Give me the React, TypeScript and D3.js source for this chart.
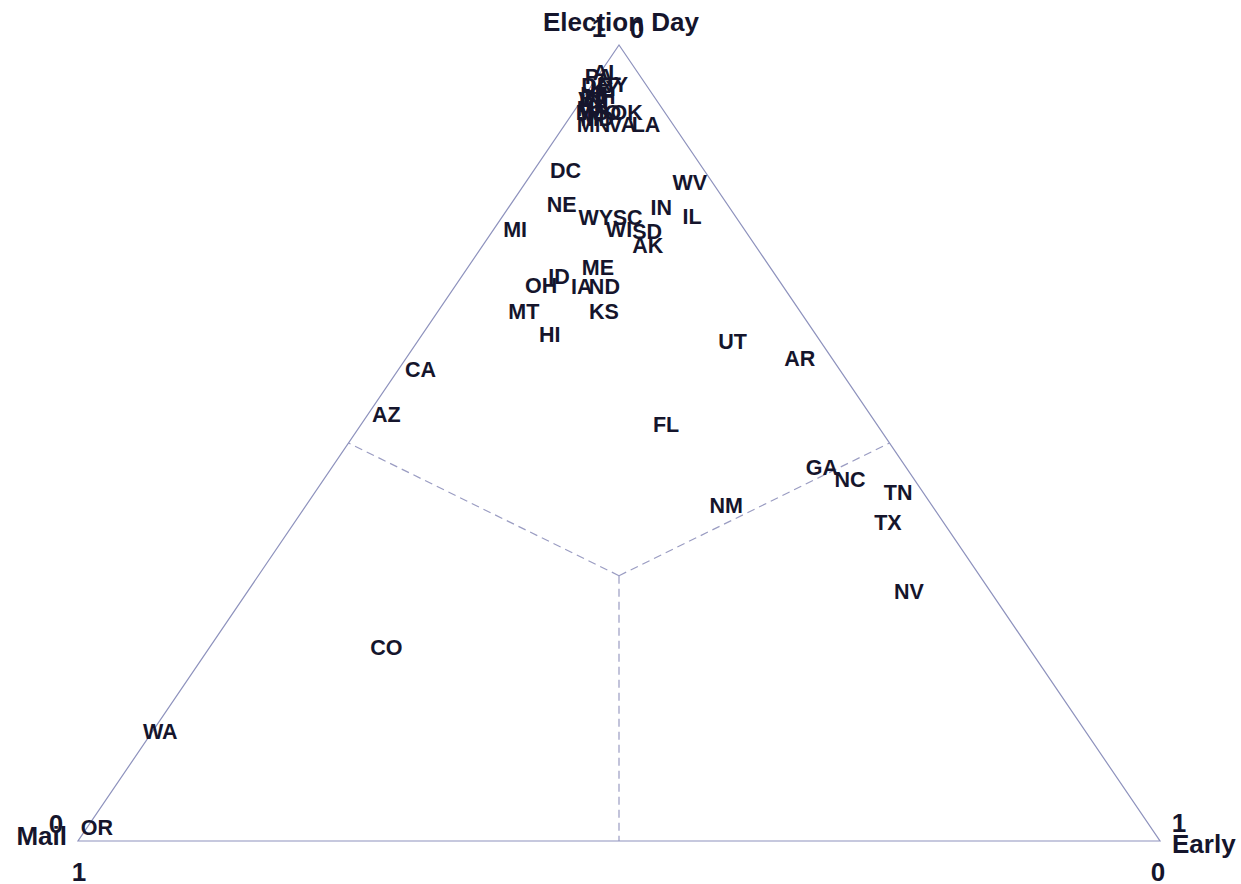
import { useEffect, useRef } from "react"
import * as d3 from "d3"

// share of votes cast by mode (percent)
const states = [
  "AL", "PA", "NY", "DE", "KY", "NJ", "NH", "VT", "CT", "RI", "MA", "MS", "MO", "OK", "MD", "MN", "VA", "LA",
  "DC", "WV", "NE", "WY", "SC", "IN", "IL", "MI", "WI", "SD", "AK", "ME", "ID", "OH", "IA", "ND", "MT", "KS",
  "HI", "UT", "AR", "CA", "AZ", "FL", "GA", "NC", "TN", "TX", "NM", "NV", "CO", "WA", "OR",
]
const mail = [
  2.8, 3.8, 3.0, 4.6, 4.0, 5.4, 5.0, 5.9, 5.5, 6.4, 6.3, 6.7, 5.6, 3.5, 6.6, 7.3, 4.7, 2.5,
  12.8, 2.1, 15.3, 13.0, 10.0, 6.3, 4.0, 21.2, 11.6, 9.1, 9.9, 15.9, 20.1, 22.3, 18.6, 16.5, 25.5, 18.1,
  24.6, 8.1, 3.0, 38.7, 44.7, 19.5, 7.8, 5.9, 2.3, 5.1, 19.0, 7.5, 59.3, 85.5, 97.4,
]
const early = [
  0.6, 0.1, 1.9, 0.4, 1.4, 0.8, 1.5, 0.9, 1.6, 1.0, 1.6, 1.7, 2.8, 4.9, 2.6, 2.6, 5.3, 7.5,
  2.9, 15.2, 4.7, 8.7, 11.6, 14.1, 17.5, 2.0, 11.6, 14.3, 15.2, 12.0, 9.0, 7.9, 11.7, 13.8, 7.9, 15.3,
  11.8, 29.1, 36.4, 2.0, 1.7, 28.2, 45.3, 48.6, 53.9, 54.8, 38.8, 61.1, 16.3, 0.7, 0.9,
]
const electionDay = [
  96.6, 96.1, 95.1, 95.0, 94.6, 93.8, 93.5, 93.2, 92.9, 92.6, 92.1, 91.6, 91.6, 91.6, 90.8, 90.1, 90.0, 90.0,
  84.3, 82.7, 80.0, 78.3, 78.4, 79.6, 78.5, 76.8, 76.8, 76.6, 74.9, 72.1, 70.9, 69.8, 69.7, 69.7, 66.6, 66.6,
  63.6, 62.8, 60.6, 59.3, 53.6, 52.3, 46.9, 45.5, 43.8, 40.1, 42.2, 31.4, 24.4, 13.8, 1.7,
]
const tickLabels = ["0", "1"]

const width = 1241
const height = 884
const textColor = "#15152c"
const lineColor = "#8e92bd"
const font = "'Liberation Sans', Arial, sans-serif"

export default function App() {
  const svgRef = useRef<SVGSVGElement>(null)

  useEffect(() => {
    document.body.style.margin = "0"
    if (!svgRef.current) return
    d3.select(svgRef.current).selectAll("*").remove()

    const svg = d3.select(svgRef.current).attr("width", width).attr("height", height)

    const x = d3.scaleLinear().domain([0, 1]).range([78, 1160])
    const y = d3.scaleLinear().domain([0, 1]).range([841, 45])
    const project = (m: number, e: number, d: number): [number, number] => {
      const t = m + e + d
      return [x((e + d / 2) / t), y(d / t)]
    }

    const mailCorner = project(1, 0, 0)
    const earlyCorner = project(0, 1, 0)
    const edayCorner = project(0, 0, 1)
    const center = project(1, 1, 1)

    svg.append("rect").attr("width", width).attr("height", height).attr("fill", "#fff")

    // plurality regions
    const mids = [project(1, 0, 1), project(0, 1, 1), project(1, 1, 0)]
    svg
      .selectAll("line.region")
      .data(mids)
      .enter()
      .append("line")
      .attr("class", "region")
      .attr("x1", center[0])
      .attr("y1", center[1])
      .attr("x2", (d) => d[0])
      .attr("y2", (d) => d[1])
      .attr("stroke", "#9a9cc2")
      .attr("stroke-width", 1.2)
      .attr("stroke-dasharray", "8,5")

    // triangle frame
    svg
      .append("path")
      .attr("d", d3.line()([mailCorner, earlyCorner, edayCorner]) + "Z")
      .attr("fill", "none")
      .attr("stroke", lineColor)
      .attr("stroke-width", 1.2)

    // state labels
    svg
      .selectAll("text.state")
      .data(states)
      .enter()
      .append("text")
      .attr("class", "state")
      .attr("x", (_, i) => project(mail[i], early[i], electionDay[i])[0])
      .attr("y", (_, i) => project(mail[i], early[i], electionDay[i])[1])
      .attr("dy", "0.36em")
      .attr("text-anchor", "middle")
      .attr("font-family", font)
      .attr("font-weight", "bold")
      .attr("font-size", 21.5)
      .attr("fill", textColor)
      .text((d) => d)

    const label = (t: string, px: number, py: number, anchor = "middle") =>
      svg
        .append("text")
        .attr("x", px)
        .attr("y", py)
        .attr("text-anchor", anchor)
        .attr("font-family", font)
        .attr("font-weight", "bold")
        .attr("font-size", 26)
        .attr("fill", textColor)
        .text(t)

    // axis titles
    label("Election Day", edayCorner[0] + 2, edayCorner[1] - 14)
    label("Mail", mailCorner[0] - 11, mailCorner[1] + 4, "end")
    label("Early", earlyCorner[0] + 12, earlyCorner[1] + 12, "start")

    // axis end ticks
    label(tickLabels[1], edayCorner[0] - 20, edayCorner[1] - 8)
    label(tickLabels[0], mailCorner[0] - 22, mailCorner[1] - 8)
    label(tickLabels[0], edayCorner[0] + 18, edayCorner[1] - 7)
    label(tickLabels[1], earlyCorner[0] + 19, earlyCorner[1] - 9)
    label(tickLabels[1], mailCorner[0] + 1, mailCorner[1] + 40)
    label(tickLabels[0], earlyCorner[0] - 2, earlyCorner[1] + 40)
  }, [])

  return <svg ref={svgRef} style={{ display: "block" }} />
}
